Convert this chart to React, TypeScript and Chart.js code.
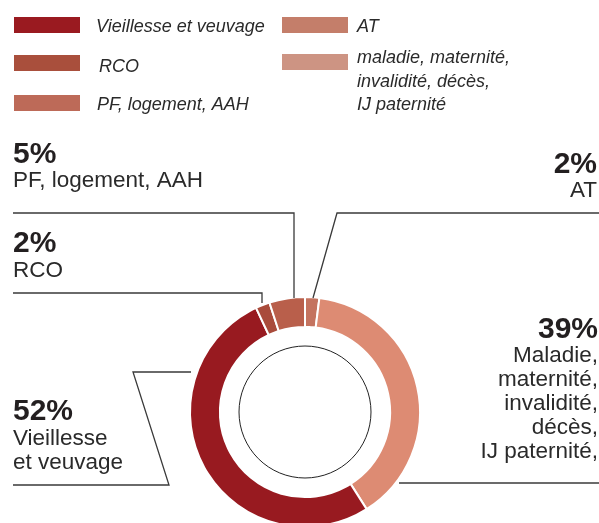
import React, { useEffect, useRef } from "react";
import { Chart, registerables } from "chart.js";

Chart.register(...registerables);

// ---- Data ----
const categories = [
  "AT",
  "Maladie, maternité, invalidité, décès, IJ paternité",
  "Vieillesse et veuvage",
  "RCO",
  "PF, logement, AAH",
];
const values = [2, 39, 52, 2, 5];
const ringColors = ["#c4735f", "#dd8b73", "#981a20", "#a94b3b", "#b95f4b"];
const legendColors = ["#c47e6a", "#cd9483", "#9a1a20", "#a94f3c", "#bd6a58"];
const legendLines = [
  ["AT"],
  ["maladie, maternité,", "invalidité, décès,", "IJ paternité"],
  ["Vieillesse et veuvage"],
  ["RCO"],
  ["PF, logement, AAH"],
];
const calloutLines = [
  ["AT"],
  ["Maladie,", "maternité,", "invalidité,", "décès,", "IJ paternité,"],
  ["Vieillesse", "et veuvage"],
  ["RCO"],
  ["PF, logement, AAH"],
];

// ---- Layout (positions only) ----
const legendLayout = [
  { bx: 282, by: 17, tx: 357, base: 32 },
  { bx: 282, by: 54, tx: 357, base: 63 },
  { bx: 14, by: 17, tx: 96, base: 32 },
  { bx: 14, by: 55, tx: 99, base: 72 },
  { bx: 14, by: 95, tx: 97, base: 110 },
];
const calloutLayout = [
  { align: "right", x: 597, pct: 173, first: 197, lines: [[313, 298], [337, 213], [599, 213]] },
  { align: "right", x: 598, pct: 338, first: 362, lines: [[399, 483], [599, 483]] },
  { align: "left", x: 13, pct: 420, first: 445, lines: [[191, 372], [133, 372], [169, 485], [13, 485]] },
  { align: "left", x: 13, pct: 252, first: 277, lines: [[13, 293], [262, 293], [262, 303]] },
  { align: "left", x: 13, pct: 163, first: 187, lines: [[13, 213], [294, 213], [294, 298]] },
];

const FONT = '"Liberation Sans", Arial, Helvetica, sans-serif';
const TEXT = "#2a2a2a";

const overlayPlugin = {
  id: "overlay",
  afterDraw(chart: any) {
    const ctx = chart.ctx as CanvasRenderingContext2D;
    const meta = chart.getDatasetMeta(0);
    const arc = meta.data[0] as any;
    ctx.save();
    // inner thin circle
    if (arc) {
      ctx.beginPath();
      ctx.arc(arc.x, arc.y, 66, 0, Math.PI * 2);
      ctx.strokeStyle = "#222";
      ctx.lineWidth = 1;
      ctx.stroke();
    }
    // legend
    legendLayout.forEach((l, i) => {
      ctx.fillStyle = legendColors[i];
      ctx.fillRect(l.bx, l.by, 66, 16);
      ctx.fillStyle = TEXT;
      ctx.font = `italic 18px ${FONT}`;
      ctx.textAlign = "left";
      ctx.textBaseline = "alphabetic";
      legendLines[i].forEach((t, j) => ctx.fillText(t, l.tx, l.base + j * 23.5));
    });
    // callouts
    calloutLayout.forEach((c, i) => {
      ctx.strokeStyle = "#3a3a3a";
      ctx.lineWidth = 1.3;
      ctx.beginPath();
      c.lines.forEach((p, k) => (k === 0 ? ctx.moveTo(p[0], p[1]) : ctx.lineTo(p[0], p[1])));
      ctx.stroke();
      ctx.fillStyle = "#231f20";
      ctx.textAlign = c.align as CanvasTextAlign;
      ctx.font = `bold 30px ${FONT}`;
      ctx.fillText(`${values[i]}%`, c.x, c.pct);
      ctx.fillStyle = TEXT;
      ctx.font = `22.5px ${FONT}`;
      calloutLines[i].forEach((t, j) => ctx.fillText(t, c.x, c.first + j * 24));
    });
    ctx.restore();
  },
};

export default function App() {
  const ref = useRef<HTMLCanvasElement>(null);
  useEffect(() => {
    if (!ref.current) return;
    const chart = new Chart(ref.current, {
      type: "doughnut",
      data: {
        labels: categories,
        datasets: [
          {
            data: values,
            backgroundColor: ringColors,
            borderColor: "#ffffff",
            borderWidth: 2,
          },
        ],
      },
      options: {
        responsive: false,
        animation: false,
        radius: 115,
        cutout: "74%",
        layout: { padding: { left: 191, right: 180, top: 298, bottom: 34 } },
        plugins: { legend: { display: false }, tooltip: { enabled: false } },
      },
      plugins: [overlayPlugin],
    } as any);
    return () => chart.destroy();
  }, []);
  return (
    <div style={{ position: "fixed", left: 0, top: 0, width: 599, height: 523, overflow: "hidden", background: "#fff" }}>
      <canvas ref={ref} width={599} height={560} style={{ width: 599, height: 560, display: "block" }} />
    </div>
  );
}
